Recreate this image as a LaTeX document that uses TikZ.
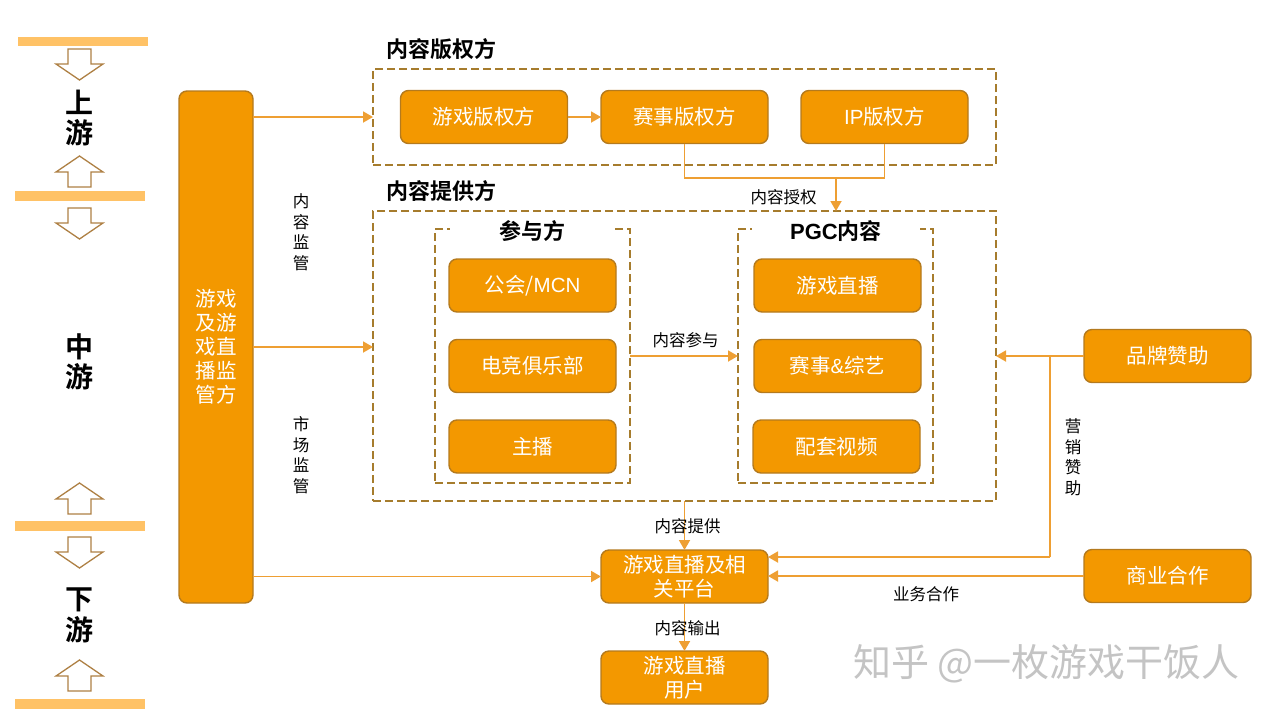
\documentclass[tikz,border=0pt]{standalone}
\usepackage{fontspec}
\setmainfont{Noto Sans CJK SC}[BoldFont={Noto Sans CJK SC Bold}]
\newfontfamily\latn{Liberation Sans}[BoldFont={Liberation Sans Bold}]
\usetikzlibrary{arrows.meta}
\definecolor{boxfill}{HTML}{F39800}
\definecolor{boxedge}{HTML}{B47A1E}
\definecolor{frameedge}{HTML}{A67C2D}
\definecolor{connline}{HTML}{EE9F33}
\definecolor{barfill}{HTML}{FFC266}
\definecolor{arrowedge}{HTML}{AE8044}
\definecolor{markgray}{HTML}{C4C4C4}
\tikzset{
  sz/.style 2 args={minimum width=#1,minimum height=#2,inner sep=0pt,outer sep=0pt},
  obox/.style={draw=boxedge,line width=1.4pt,fill=boxfill,rounded corners=8pt,text=white,align=center,
    font=\fontsize{20.5}{24}\selectfont},
  dframe/.style={draw=frameedge,line width=1.8pt,dash pattern=on 8pt off 4pt},
  title/.style={font=\fontsize{22}{26}\selectfont\bfseries,inner sep=0pt},
  lbl/.style={font=\fontsize{16.5}{20.5}\selectfont,align=center,inner sep=0pt},
  stream/.style={font=\fontsize{28}{30.5}\selectfont\bfseries,align=center,inner sep=0pt},
  bar/.style={fill=barfill,draw=none},
  hollow/.style={draw=arrowedge,line width=1.3pt,fill=white,line join=miter},
  conn/.style={draw=connline,line width=1.8pt,-{Triangle[width=11pt,length=10pt]}},
  wire/.style={draw=connline,line width=1.8pt},
}
\newcommand{\downarr}[1]{\draw[hollow] (68,#1) -- (91,#1) -- (91,#1+15) -- (103,#1+15) -- (79.5,#1+31) -- (56,#1+15) -- (68,#1+15) -- cycle;}
\newcommand{\uparr}[1]{\draw[hollow] (68,#1) -- (91,#1) -- (91,#1-15) -- (103,#1-15) -- (79.5,#1-31) -- (56,#1-15) -- (68,#1-15) -- cycle;}
\begin{document}
\begin{tikzpicture}[x=1pt,y=-1pt]
\useasboundingbox (0,0) rectangle (1270,716);
% stream bars
\fill[bar] (18,37) rectangle (148,46);
\fill[bar] (15,191) rectangle (145,201);
\fill[bar] (15,521) rectangle (145,531);
\fill[bar] (15,699) rectangle (145,709);
\downarr{49} \uparr{187} \downarr{208} \uparr{514} \downarr{537} \uparr{691}
\node[stream] (sup) at (79.5,118) {上\\游};
\node[stream] (mid) at (79.5,362) {中\\游};
\node[stream] (dow) at (79.5,615.5) {下\\游};
% frames
\node[dframe,sz={623}{96}] (f1) at (684.5,117) {};
\node[dframe,sz={623}{290}] (f2) at (684.5,356) {};
\node[dframe,sz={195}{254}] (i1) at (532.5,356) {};
\node[dframe,sz={195}{254}] (i2) at (835.5,356) {};
\node[title,anchor=west] (t1) at (386,49) {内容版权方};
\node[title,anchor=west] (t2) at (386,191) {内容提供方};
\node[title,fill=white,sz={165}{26}] (t3) at (532.5,231) {参与方};
\node[title,fill=white,sz={168}{26}] (t4) at (836,231) {{\latn\bfseries PGC}内容};
% boxes
\node[obox,sz={74}{512}] (reg) at (216,347) {游戏\\及游\\戏直\\播监\\管方};
\node[obox,sz={167}{53}] (a1) at (484,117) {游戏版权方};
\node[obox,sz={167}{53}] (a2) at (684.5,117) {赛事版权方};
\node[obox,sz={167}{53}] (a3) at (884.5,117) {{\latn IP}版权方};
\node[obox,sz={167}{53}] (b1) at (532.5,285.5) {公会/{\latn MCN}};
\node[obox,sz={167}{53}] (b2) at (532.5,366) {电竞俱乐部};
\node[obox,sz={167}{53}] (b3) at (532.5,446.5) {主播};
\node[obox,sz={167}{53}] (c1) at (837.5,285.5) {游戏直播};
\node[obox,sz={167}{53}] (c2) at (837.5,366) {赛事{\latn\&}综艺};
\node[obox,sz={167}{53}] (c3) at (836.5,446.5) {配套视频};
\node[obox,sz={167}{53}] (br) at (1167.5,356) {品牌赞助};
\node[obox,sz={167}{53}] (co) at (1167.5,576) {商业合作};
\node[obox,sz={167}{53}] (pf) at (684.5,576.5) {游戏直播及相\\关平台};
\node[obox,sz={167}{53}] (us) at (684.5,677.5) {游戏直播\\用户};
% connectors
\coordinate (regmid) at (253,347);
\coordinate (f2mid) at (f2.west |- regmid);
\coordinate (lic) at (836,178);
\coordinate (spon) at (1050,356);
\coordinate (sponb) at (1050,557);
\coordinate (pfb) at (pf.east |- sponb);
\draw[conn] (reg.east |- f1.west) -- (f1.west);
\draw[conn] (regmid) -- (f2mid);
\draw[conn] (reg.east |- pf.west) -- (pf.west);
\draw[conn] (a1) -- (a2);
\draw[wire] (a2.south) |- (a3.south |- lic) -- (a3.south);
\draw[conn] (lic) -- (lic |- f2.north);
\draw[conn] (i1.east |- f2.center) -- (i2.west |- f2.center);
\draw[conn] (br.west) -- (f2.east);
\draw[wire] (spon) -- (sponb);
\draw[conn] (sponb) -- (pfb);
\draw[conn] (co.west) -- (pf.east |- co.west);
\draw[conn] (f2.south) -- (pf.north);
\draw[conn] (pf.south) -- (us.north);
% labels
\node[lbl] (l1) at (783.5,197) {内容授权};
\node[lbl] (l3) at (685.5,340) {内容参与};
\node[lbl] (l4) at (687.5,526) {内容提供};
\node[lbl] (l5) at (687.5,628) {内容输出};
\node[lbl] (l6) at (926,594) {业务合作};
\node[lbl] (l7) at (301,232) {内\\容\\监\\管};
\node[lbl] (l8) at (301,455) {市\\场\\监\\管};
\node[lbl] (l9) at (1073,457) {营\\销\\赞\\助};
% watermark
\node[font=\fontsize{38}{42}\selectfont,text=markgray,anchor=west,inner sep=0pt] (wm) at (853,664) {知乎 @一枚游戏干饭人};
\end{tikzpicture}
\end{document}
